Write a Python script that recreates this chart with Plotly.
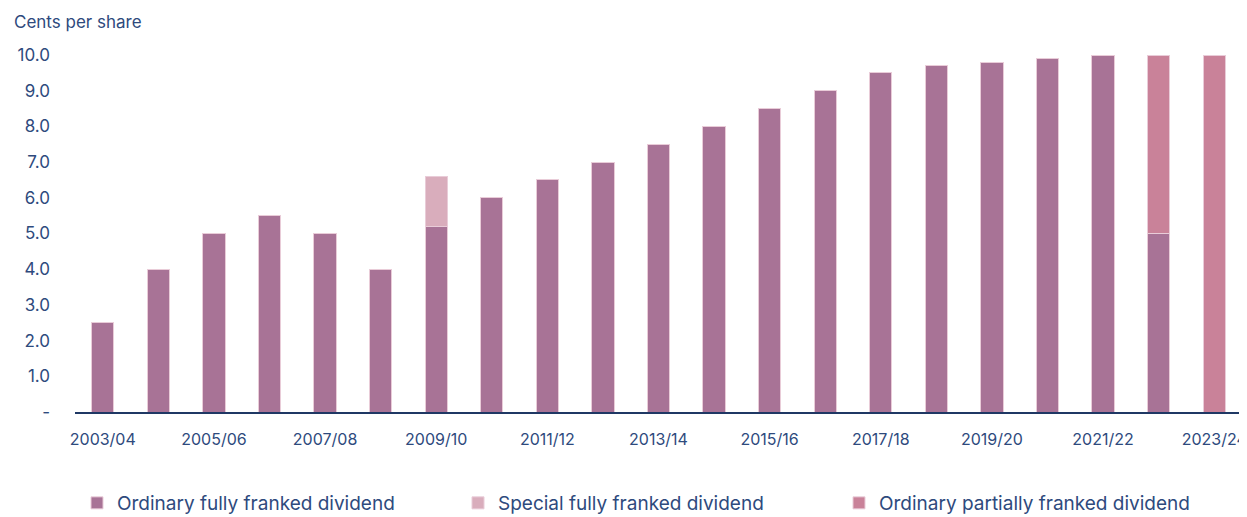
import plotly.graph_objects as go

years = ["2003/04", "2004/05", "2005/06", "2006/07", "2007/08", "2008/09", "2009/10",
         "2010/11", "2011/12", "2012/13", "2013/14", "2014/15", "2015/16", "2016/17",
         "2017/18", "2018/19", "2019/20", "2020/21", "2021/22", "2022/23", "2023/24"]
ordinary_full = [2.5, 4.0, 5.0, 5.5, 5.0, 4.0, 5.2, 6.0, 6.5, 7.0, 7.5, 8.0, 8.5, 9.0,
                 9.5, 9.7, 9.8, 9.9, 10.0, 5.0, 0]
special_full = [0, 0, 0, 0, 0, 0, 1.4, 0, 0, 0, 0, 0, 0, 0, 0, 0, 0, 0, 0, 0, 0]
ordinary_partial = [0, 0, 0, 0, 0, 0, 0, 0, 0, 0, 0, 0, 0, 0, 0, 0, 0, 0, 0, 5.0, 10.0]
ytick_vals = [0, 1, 2, 3, 4, 5, 6, 7, 8, 9, 10]
ytick_text = ["-", "1.0", "2.0", "3.0", "4.0", "5.0", "6.0", "7.0", "8.0", "9.0", "10.0"]
xtick_vals = years[::2]

navy = "#2E4A7D"
font_family = "Inter, 'Open Sans', sans-serif"

fig = go.Figure()
series = [
    ("Ordinary fully franked dividend", ordinary_full, "#A87396"),
    ("Special fully franked dividend", special_full, "#D9ADBC"),
    ("Ordinary partially franked dividend", ordinary_partial, "#C98299"),
]
for name, vals, color in series:
    fig.add_trace(go.Bar(
        x=years, y=vals, name=name,
        marker=dict(color=color, line=dict(color="#E9CCD8", width=1)),
    ))

# page body adds an 8px margin, so the figure is 8px smaller than the window
W, H = 1239, 509
L, R, T, B = 67, 5, 47, 105
PW, PH = W - L - R, H - T - B

fig.update_layout(
    barmode="stack",
    bargap=0.6,
    width=W, height=H,
    margin=dict(l=L, r=R, t=T, b=B, autoexpand=False),
    plot_bgcolor="white", paper_bgcolor="white",
    font=dict(family=font_family, color=navy, size=17),
    xaxis=dict(
        tickmode="array", tickvals=xtick_vals, showgrid=False,
        showline=True, linecolor="#1F3864", linewidth=2,
        ticks="", ticklen=0, tickfont=dict(size=16, color=navy),
        range=[-0.5, 20.5], automargin=False, ticklabelstandoff=12,
    ),
    yaxis=dict(
        range=[0, 10], tickmode="array", tickvals=ytick_vals, ticktext=ytick_text,
        showgrid=False, zeroline=False, showline=False, automargin=False,
        tickfont=dict(size=17, color=navy), ticks="", ticklabelstandoff=24,
    ),
    legend=dict(
        orientation="h", x=2 / PW, xanchor="left", y=-(495 - (H - B)) / PH, yanchor="middle",
        font=dict(size=19, color=navy), entrywidth=336, entrywidthmode="pixels",
        traceorder="normal",
    ),
    annotations=[dict(
        text="Cents per share", xref="paper", yref="paper",
        x=(4 - L) / PW, y=1 + (T - 14) / PH, xanchor="left", yanchor="middle",
        showarrow=False, font=dict(size=17, color=navy),
    )],
)

fig.write_html("out.html")
